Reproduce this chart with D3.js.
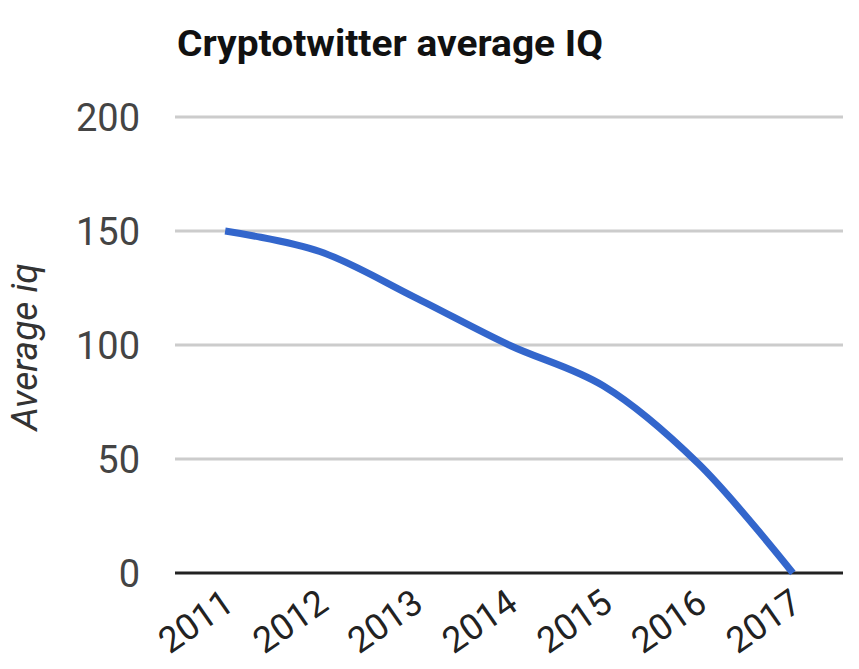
<!DOCTYPE html>
<html><head><meta charset="utf-8">
<script src="https://cdn.jsdelivr.net/npm/d3@7"></script>
<style>body{margin:0;background:#fff}svg{display:block}</style>
</head><body><svg id="c" width="859" height="669"></svg>
<script>
const years = ["2011","2012","2013","2014","2015","2016","2017"];
const avgIQ = [150, 141, 121, 100, 82, 48, 0];
const yTicks = [0, 50, 100, 150, 200];
const title = "Cryptotwitter average IQ";
const yTitle = "Average iq";

const svg = d3.select("#c");
const L = 175, R = 843, T = 117, B = 573;
const x = d3.scalePoint().domain(years).range([L, R]).padding(0.53);
const y = d3.scaleLinear().domain([0, 200]).range([B, T]);

// gridlines
svg.append("g").selectAll("line").data(yTicks.filter(d => d !== 0)).join("line")
  .attr("x1", L).attr("x2", R).attr("y1", d => y(d)).attr("y2", d => y(d))
  .attr("stroke", "#cccccc").attr("stroke-width", 3);

// y tick labels
svg.append("g").selectAll("text").data(yTicks).join("text")
  .attr("x", 140).attr("y", d => y(d)).attr("dy", "0.36em")
  .attr("text-anchor", "end").attr("font-family", "Roboto").attr("font-size", 38)
  .attr("fill", "#444").text(d => d);

// zero baseline
svg.append("line").attr("x1", L).attr("x2", R).attr("y1", y(0)).attr("y2", y(0))
  .attr("stroke", "#222").attr("stroke-width", 3);

// line
const line = d3.line().x((d, i) => x(years[i])).y(d => y(d)).curve(d3.curveCatmullRom.alpha(0.5));
svg.append("path").datum(avgIQ).attr("d", line).attr("fill", "none")
  .attr("stroke", "#3366cc").attr("stroke-width", 7);

// x labels
svg.append("g").selectAll("text").data(years).join("text")
  .attr("transform", d => `translate(${x(d) - 4},${587}) rotate(-35)`)
  .attr("text-anchor", "end").attr("dy", "0.72em")
  .attr("font-family", "Roboto").attr("font-size", 36).attr("fill", "#222").text(d => d);

// title
svg.append("text").attr("x", 177).attr("y", 56).attr("font-family", "Roboto")
  .attr("font-weight", "bold").attr("font-size", 36).attr("fill", "#111")
  .attr("textLength", 426).attr("lengthAdjust", "spacingAndGlyphs").text(title);

// y axis title
svg.append("text").attr("transform", "translate(37,347) rotate(-90)")
  .attr("text-anchor", "middle").attr("font-family", "Roboto").attr("font-style", "italic")
  .attr("font-size", 37).attr("fill", "#333").text(yTitle);
</script></body></html>
